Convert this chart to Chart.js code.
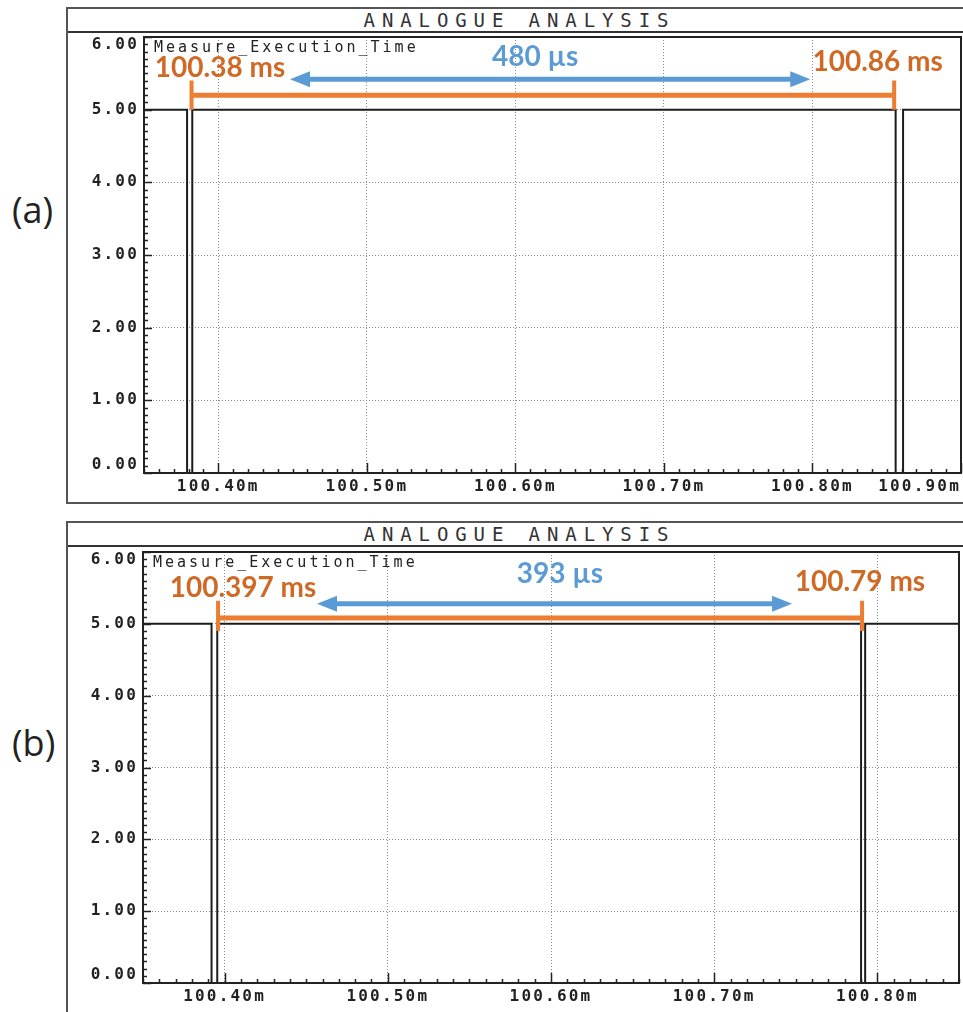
<!DOCTYPE html>
<html>
<head>
<meta charset="utf-8">
<script src="https://cdn.jsdelivr.net/npm/chart.js@4.4.0/dist/chart.umd.min.js"></script>
<style>
  html, body { margin: 0; padding: 0; background: #fff; }
  body { width: 963px; height: 1012px; position: relative; overflow: hidden; }
  .frame { position: absolute; left: 66px; width: 900px; border: 2px solid #555; box-sizing: border-box; }
  .titlebar { height: 24px; border-bottom: 2px solid #333; box-sizing: border-box; text-align: center;
              font: 19px 'DejaVu Sans Mono', monospace; letter-spacing: 6.9px; padding-left: 6.9px;
              line-height: 22px; color: #333; }
  .tag { position: absolute; font: 36px 'Open Sans', sans-serif; color: #222; line-height: 1; }
  canvas { position: absolute; left: 0; }
</style>
</head>
<body>
<div class="frame" style="top:7px;height:497px"><div class="titlebar">ANALOGUE ANALYSIS</div></div>
<div class="frame" style="top:521px;height:600px"><div class="titlebar">ANALOGUE ANALYSIS</div></div>
<div class="tag" style="left:12px;top:192px">(a)</div>
<div class="tag" style="left:12px;top:725px">(b)</div>
<canvas id="scopeA" width="963" height="512" style="top:0;width:963px;height:512px"></canvas>
<canvas id="scopeB" width="963" height="500" style="top:512px;width:963px;height:500px"></canvas>

<script>
// Values (time in ms, level in V)
const yTicks = [0, 1, 2, 3, 4, 5, 6];

// (a)
const xTicksA = [100.40, 100.50, 100.60, 100.70, 100.80, 100.90];
const timeA = [100.35, 100.379, 100.3825, 100.856, 100.861, 100.90];
const levelA = [5, 0, 5, 0, 5, 5];
const spanA = [100.382, 100.855];      // orange bracket ends
const arrowA = [100.4483, 100.7985];   // blue arrow ends
const labelsA = ['100.38 ms', '480 µs', '100.86 ms'];

// (b)
const xTicksB = [100.40, 100.50, 100.60, 100.70, 100.80];
const timeB = [100.35, 100.392, 100.3955, 100.790, 100.7925, 100.85];
const levelB = [5, 0, 5, 0, 5, 5];
const spanB = [100.396, 100.7906];
const arrowB = [100.4566, 100.7477];
const labelsB = ['100.397 ms', '393 µs', '100.79 ms'];

const SIGNAL_NAME = 'Measure_Execution_Time';
const ORANGE = '#ED7D31';
const ORANGE_TEXT = '#CF6A26';
const BLUE = '#5B9BD5';
const INK = '#222';

// Layout of each panel (where things go, not data)
const panels = [
    {
        canvas: 'scopeA', time: timeA, level: levelA, xTicks: xTicksA, xMin: 100.35, xMax: 100.90,
        padding: {left: 74, top: 37, right: 2, bottom: 11},
        span: spanA, spanY: 5.2, spanTop: 5.4, spanBottom: 5.0,
        arrow: arrowA, arrowY: 5.42,
        labels: labelsA, labelAt: [[100.4012, 5.58], [100.6133, 5.72], [100.8439, 5.66]]
    },
    {
        canvas: 'scopeB', time: timeB, level: levelB, xTicks: xTicksB, xMin: 100.35, xMax: 100.85,
        padding: {left: 73, top: 40, right: 4, bottom: 1},
        span: spanB, spanY: 5.08, spanTop: 5.32, spanBottom: 4.9,
        arrow: arrowB, arrowY: 5.28,
        labels: labelsB, labelAt: [[100.4113, 5.50], [100.6055, 5.69], [100.7893, 5.58]]
    }
];

const tickFont = {family: "'DejaVu Sans Mono', monospace", size: 16, weight: 'bold'};

function isMajor(v) {
    return Math.abs(v * 10 - Math.round(v * 10)) < 1e-6;
}

function drawArrow(ctx, x1, x2, y) {
    const head = 20, half = 8;
    ctx.strokeStyle = BLUE;
    ctx.fillStyle = BLUE;
    ctx.lineWidth = 5;
    ctx.beginPath();
    ctx.moveTo(x1 + head - 2, y);
    ctx.lineTo(x2 - head + 2, y);
    ctx.stroke();
    ctx.beginPath();
    ctx.moveTo(x1, y); ctx.lineTo(x1 + head, y - half); ctx.lineTo(x1 + head, y + half);
    ctx.closePath(); ctx.fill();
    ctx.beginPath();
    ctx.moveTo(x2, y); ctx.lineTo(x2 - head, y - half); ctx.lineTo(x2 - head, y + half);
    ctx.closePath(); ctx.fill();
}

// frame, inner tick marks, signal name and the measurement marks
const scopeDecor = {
    id: 'scopeDecor',
    beforeDraw(chart) {
        chart.ctx.letterSpacing = '2.2px';
        // keep the end labels of the y axis inside the plot like the scope does
        const ys = chart.scales.y;
        const items = ys.getLabelItems();
        if (!items._nudged) {
            items.forEach((it, i) => {
                const v = ys.ticks[i].value;
                if (v === 6) it.options.textBaseline = 'top';
                if (v === 0) it.options.textBaseline = 'bottom';
            });
            items._nudged = true;
        }
    },
    afterDraw(chart) {
        const p = chart.options.plugins.scopeDecor;
        const {ctx, chartArea: a} = chart;
        const xs = chart.scales.x, ys = chart.scales.y;
        ctx.save();

        // plot box
        ctx.strokeStyle = INK;
        ctx.lineWidth = 2;
        ctx.strokeRect(a.left, a.top, a.right - a.left, a.bottom - a.top);

        // tick marks inside the box
        ctx.lineWidth = 1.5;
        ctx.beginPath();
        for (let k = Math.round(xs.min * 100); k <= Math.round(xs.max * 100); k++) {
            const px = Math.round(xs.getPixelForValue(k / 100)) + 0.5;
            const len = k % 10 === 0 ? 10 : 4;
            ctx.moveTo(px, a.bottom);
            ctx.lineTo(px, a.bottom - len);
        }
        for (let k = 0; k <= 60; k++) {
            const py = Math.round(ys.getPixelForValue(k / 10)) + 0.5;
            const len = k % 10 === 0 ? 8 : 4;
            ctx.moveTo(a.left, py);
            ctx.lineTo(a.left + len, py);
        }
        ctx.stroke();

        // signal name
        ctx.letterSpacing = '3px';
        ctx.fillStyle = INK;
        ctx.font = "15px 'DejaVu Sans Mono', monospace";
        ctx.textAlign = 'left';
        ctx.textBaseline = 'middle';
        ctx.fillText(SIGNAL_NAME, a.left + 10, a.top + 11);

        // orange bracket
        const x1 = xs.getPixelForValue(p.span[0]);
        const x2 = xs.getPixelForValue(p.span[1]);
        const yLine = ys.getPixelForValue(p.spanY);
        const yTop = ys.getPixelForValue(p.spanTop);
        const yBot = ys.getPixelForValue(p.spanBottom);
        ctx.strokeStyle = ORANGE;
        ctx.lineWidth = 5;
        ctx.beginPath();
        ctx.moveTo(x1, yLine); ctx.lineTo(x2, yLine);
        ctx.stroke();
        ctx.lineWidth = 4;
        ctx.beginPath();
        ctx.moveTo(x1, yTop); ctx.lineTo(x1, yBot);
        ctx.moveTo(x2, yTop); ctx.lineTo(x2, yBot);
        ctx.stroke();

        // blue duration arrow
        drawArrow(ctx, xs.getPixelForValue(p.arrow[0]), xs.getPixelForValue(p.arrow[1]),
                  ys.getPixelForValue(p.arrowY));

        // labels
        ctx.letterSpacing = '0px';
        ctx.font = "bold 28px Lato, 'Open Sans', sans-serif";
        ctx.textAlign = 'center';
        p.labels.forEach((txt, i) => {
            ctx.fillStyle = i === 1 ? BLUE : ORANGE_TEXT;
            ctx.fillText(txt, xs.getPixelForValue(p.labelAt[i][0]), ys.getPixelForValue(p.labelAt[i][1]));
        });
        ctx.restore();
    }
};

function makeScope(p) {
    const ctx = document.getElementById(p.canvas);
    const points = p.time.map((t, i) => ({x: t, y: p.level[i]}));

    return new Chart(ctx.getContext('2d'), {
        type: 'line',
        data: {
            datasets: [{
                label: SIGNAL_NAME,
                data: points,
                stepped: true,
                borderColor: '#1c1c1c',
                borderWidth: 2,
                pointRadius: 0,
                fill: false
            }]
        },
        options: {
            responsive: false,
            animation: false,
            events: [],
            layout: {padding: p.padding},
            plugins: {
                legend: {display: false},
                tooltip: {enabled: false},
                scopeDecor: p
            },
            scales: {
                x: {
                    type: 'linear',
                    min: p.xMin,
                    max: p.xMax,
                    afterBuildTicks: scale => {
                        const vals = [p.xMin, ...p.xTicks];
                        if (p.xTicks[p.xTicks.length - 1] !== p.xMax) vals.push(p.xMax);
                        scale.ticks = vals.map(v => ({value: v}));
                    },
                    afterFit: scale => {
                        scale.height = 28;
                        scale.paddingLeft = 0;
                        scale.paddingRight = 0;
                    },
                    grid: {color: '#8a8a8a', lineWidth: 1, drawTicks: false},
                    border: {display: false, dash: [1, 2]},
                    ticks: {
                        autoSkip: false,
                        maxRotation: 0,
                        align: 'inner',
                        padding: 4,
                        color: INK,
                        font: tickFont,
                        callback: v => isMajor(v) && v > p.xMin ? v.toFixed(2) + 'm' : ''
                    }
                },
                y: {
                    min: 0,
                    max: 6,
                    afterBuildTicks: scale => {
                        scale.ticks = yTicks.map(v => ({value: v}));
                    },
                    afterFit: scale => {
                        scale.width = 70;
                        scale.paddingTop = 0;
                        scale.paddingBottom = 0;
                    },
                    grid: {color: '#8a8a8a', lineWidth: 1, drawTicks: false},
                    border: {display: false, dash: [1, 2]},
                    ticks: {
                        padding: 5,
                        color: INK,
                        font: tickFont,
                        callback: v => Number(v).toFixed(2)
                    }
                }
            }
        },
        plugins: [scopeDecor]
    });
}

panels.forEach(makeScope);
</script>
</body>
</html>
